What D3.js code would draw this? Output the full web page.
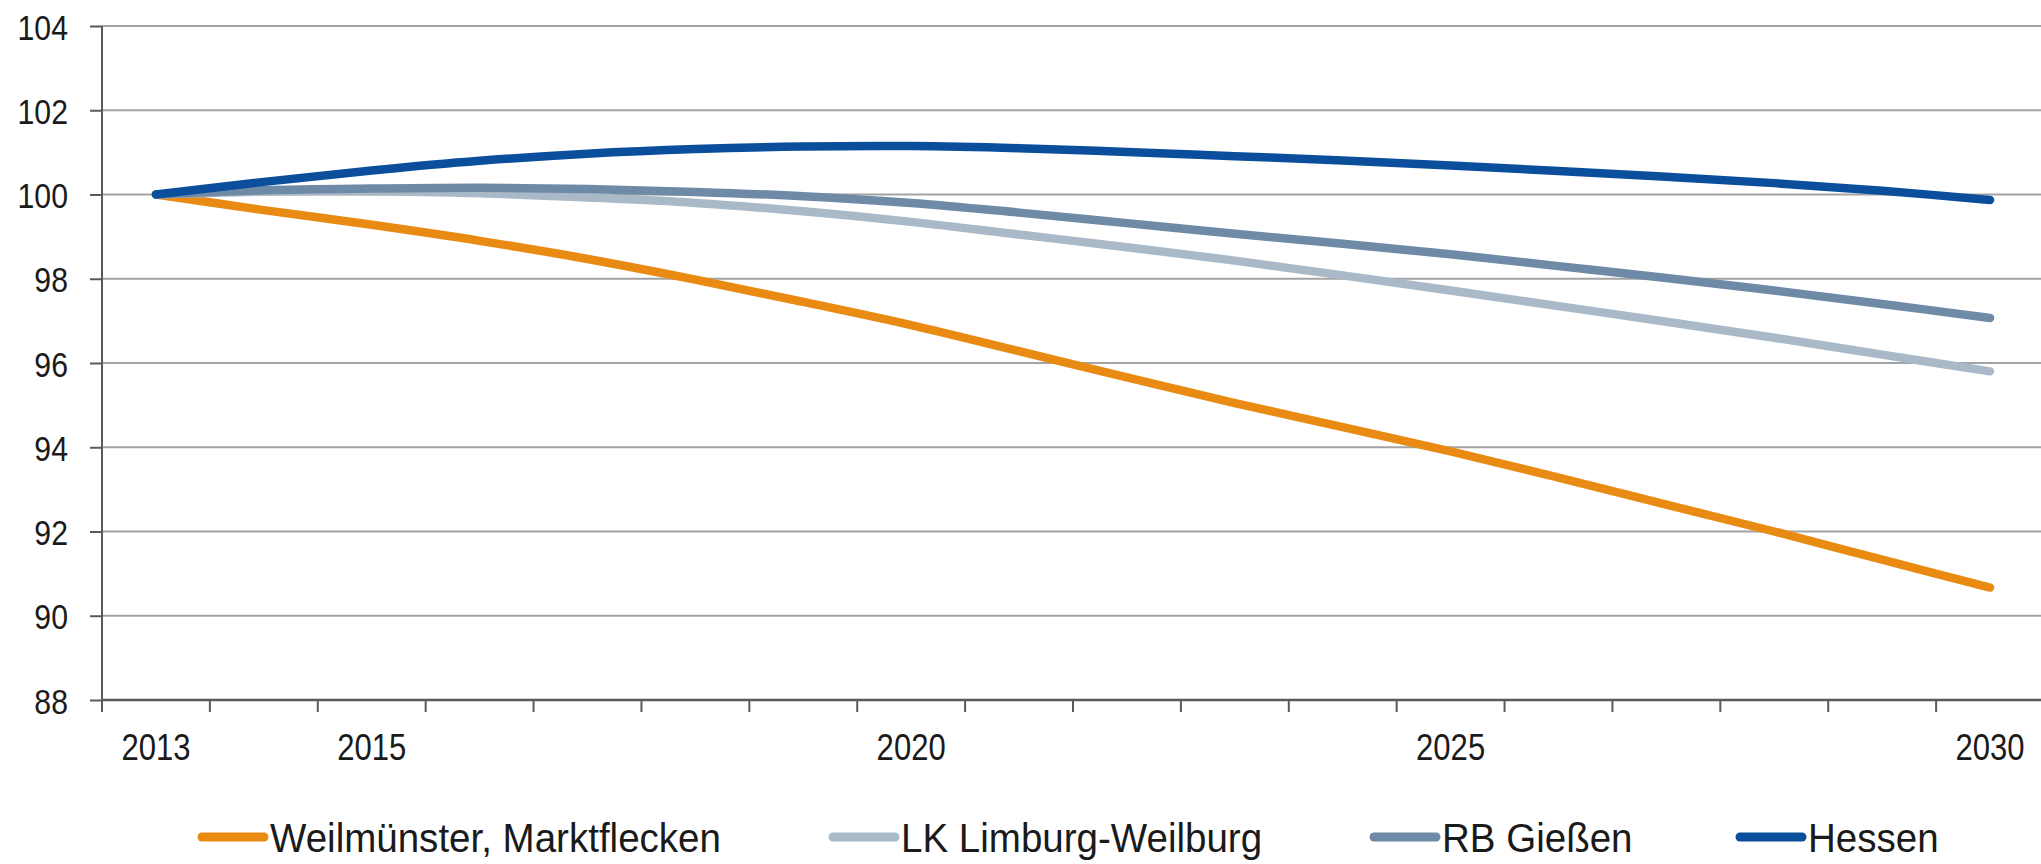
<!DOCTYPE html>
<html>
<head>
<meta charset="utf-8">
<script src="https://cdn.jsdelivr.net/npm/d3@7"></script>
<style>
  html, body { margin: 0; padding: 0; background: #fff; }
  svg { display: block; }
  text { font-family: "Liberation Sans", Arial, sans-serif; fill: #1a1a1a; }
</style>
</head>
<body>
<svg id="chart" width="2041" height="864"></svg>
<script>
// ---- data ----
const years = [2013,2014,2015,2016,2017,2018,2019,2020,2021,2022,2023,2024,2025,2026,2027,2028,2029,2030];
const labelYears = [2013, 2015, 2020, 2025, 2030];
const yTicks = [88, 90, 92, 94, 96, 98, 100, 102, 104];

const weilmuenster = [100, 99.63, 99.28, 98.9, 98.47, 97.98, 97.45, 96.9, 96.28, 95.66, 95.05, 94.48, 93.9, 93.28, 92.64, 92.0, 91.33, 90.67];
const limburg      = [100, 100.07, 100.08, 100.03, 99.93, 99.8, 99.6, 99.35, 99.05, 98.75, 98.43, 98.08, 97.72, 97.35, 96.98, 96.6, 96.2, 95.8];
const giessen      = [100, 100.1, 100.14, 100.16, 100.13, 100.06, 99.96, 99.8, 99.57, 99.32, 99.07, 98.83, 98.58, 98.3, 98.02, 97.72, 97.4, 97.07];
const hessen       = [100, 100.3, 100.57, 100.8, 100.97, 101.08, 101.14, 101.15, 101.1, 101.01, 100.91, 100.81, 100.69, 100.56, 100.42, 100.27, 100.09, 99.87];

const seriesNames = ["Weilmünster, Marktflecken", "LK Limburg-Weilburg", "RB Gießen", "Hessen"];
const seriesValues = [weilmuenster, limburg, giessen, hessen];
const seriesColors = ["#e98a13", "#a9b9c8", "#6e8aa6", "#0b4f9c"];

(function () {
// ---- layout ----
const W = 2041, H = 864;
const pLeft = 102, pRight = 2044, pTop = 26, pBottom = 700;
const svg = d3.select("#chart");
svg.append("rect").attr("width", W).attr("height", H).attr("fill", "#fff");

const x = d3.scaleBand().domain(years).range([pLeft, pRight]).padding(0);
const y = d3.scaleLinear().domain([88, 104]).range([pBottom, pTop]);
const xc = d => x(d) + x.bandwidth() / 2;

// gridlines
svg.append("g").selectAll("line").data(yTicks.filter(v => v !== 88)).join("line")
  .attr("x1", pLeft).attr("x2", W).attr("y1", d => y(d)).attr("y2", d => y(d))
  .attr("stroke", "#a3a3a3").attr("stroke-width", 2);

// y axis
const yAxis = svg.append("g").attr("transform", `translate(${pLeft},0)`)
  .call(d3.axisLeft(y).tickValues(yTicks).tickSize(12).tickFormat(d3.format("d")));
yAxis.select(".domain").attr("stroke", "#5a5a5a").attr("stroke-width", 2)
  .attr("d", `M0,${pTop}V${pBottom + 12}`);
yAxis.selectAll(".tick line").attr("stroke", "#5a5a5a").attr("stroke-width", 2);
yAxis.selectAll(".tick text")
  .attr("x", null).attr("dy", null)
  .attr("transform", "translate(-34,13) scale(0.84,1)")
  .attr("font-size", 36).attr("font-family", "Liberation Sans, Arial, sans-serif")
  .attr("fill", "#1a1a1a").attr("text-anchor", "end");

// x axis
const xAxis = svg.append("g");
xAxis.append("line").attr("x1", pLeft).attr("x2", W).attr("y1", pBottom).attr("y2", pBottom)
  .attr("stroke", "#5a5a5a").attr("stroke-width", 2.5);
xAxis.selectAll("line.tk").data(years).join("line").attr("class", "tk")
  .attr("x1", d => x(d)).attr("x2", d => x(d)).attr("y1", pBottom).attr("y2", pBottom + 12)
  .attr("stroke", "#5a5a5a").attr("stroke-width", 2);
xAxis.selectAll("text").data(labelYears).join("text")
  .attr("transform", d => `translate(${xc(d)},760) scale(0.84,1)`)
  .attr("text-anchor", "middle").attr("font-size", 37).text(d => d);

// lines
const line = d3.line().x((d, i) => xc(years[i])).y(d => y(d)).curve(d3.curveCatmullRom.alpha(0.5));
svg.append("g").selectAll("path").data(seriesValues).join("path")
  .attr("d", d => line(d)).attr("fill", "none")
  .attr("stroke", (d, i) => seriesColors[i]).attr("stroke-width", 8.5)
  .attr("stroke-linecap", "round").attr("stroke-linejoin", "round");

// legend
const legendX = [198, 829, 1370, 1736];
const lg = svg.append("g").selectAll("g").data(seriesNames).join("g")
  .attr("transform", (d, i) => `translate(${legendX[i]},0)`);
lg.append("line").attr("x1", 4).attr("x2", 66).attr("y1", 837).attr("y2", 837)
  .attr("stroke", (d, i) => seriesColors[i]).attr("stroke-width", 9).attr("stroke-linecap", "round");
lg.append("text").attr("transform", "translate(72,852) scale(0.94,1)").attr("font-size", 41).text(d => d);
})();
</script>
</body>
</html>
